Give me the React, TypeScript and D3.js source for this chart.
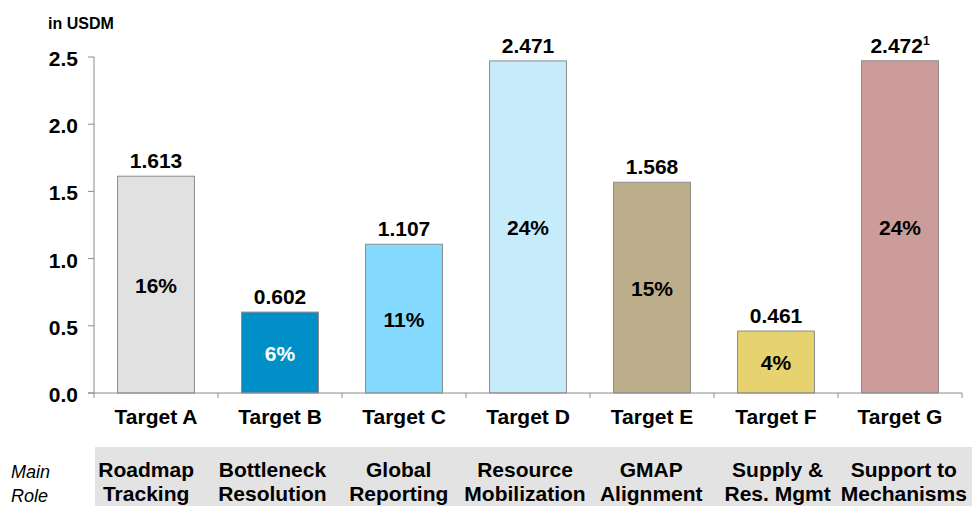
import React from "react";
import * as d3 from "d3";

const categories = ["Target A", "Target B", "Target C", "Target D", "Target E", "Target F", "Target G"];
const values = [1.613, 0.602, 1.107, 2.471, 1.568, 0.461, 2.472];
const valueLabels = ["1.613", "0.602", "1.107", "2.471", "1.568", "0.461", "2.472"];
const footnotes = ["", "", "", "", "", "", "1"];
const shares = ["16%", "6%", "11%", "24%", "15%", "4%", "24%"];
const roles = [
  ["Roadmap", "Tracking"],
  ["Bottleneck", "Resolution"],
  ["Global", "Reporting"],
  ["Resource", "Mobilization"],
  ["GMAP", "Alignment"],
  ["Supply &", "Res. Mgmt"],
  ["Support to", "Mechanisms"],
];
const colors = ["#e1e1e1", "#008fc7", "#84dbff", "#c6ecfc", "#bcae8a", "#e6d26f", "#cc9c9a"];
const shareColors = ["#000", "#fff", "#000", "#000", "#000", "#000", "#000"];
const yTicks = [0, 0.5, 1.0, 1.5, 2.0, 2.5];

const W = 972, H = 506;
const x0 = 94, x1 = 962, yTop = 57, yBot = 393;
const FONT = "Liberation Sans, Arial, sans-serif";
const FS = 21;

export default function App() {
  const x = d3.scaleBand<string>().domain(categories).range([x0, x1]).paddingInner(0.38).paddingOuter(0.19);
  const band = d3.scaleBand<string>().domain(categories).range([x0, x1]);
  const roleBand = d3.scaleBand<string>().domain(categories).range([83, 967]);
  const y = d3.scaleLinear().domain([0, 2.5]).range([yBot, yTop]);
  return (
    <svg width={W} height={H} style={{ position: "absolute", left: 0, top: 0 }} fontFamily={FONT}>
      <text x={48} y={29} fontSize={16} fontWeight="bold">in USDM</text>
      {/* y axis */}
      <line x1={x0} x2={x0} y1={y(2.5)} y2={yBot} stroke="#8c8c8c" />
      {yTicks.map((t) => (
        <g key={t}>
          <line x1={x0 - 6} x2={x0} y1={y(t)} y2={y(t)} stroke="#8c8c8c" />
          <text x={x0 - 16} y={y(t) + 9} textAnchor="end" fontSize={FS} fontWeight="bold">{t.toFixed(1)}</text>
        </g>
      ))}
      {/* bars */}
      {categories.map((c, i) => {
        const bx = x(c)!;
        const bw = x.bandwidth();
        const top = y(values[i]);
        const cx = bx + bw / 2;
        return (
          <g key={c}>
            <rect x={bx} y={top} width={bw} height={yBot - top} fill={colors[i]} stroke="#8c8c8c" strokeWidth={1} />
            <text x={cx} y={top - 8} textAnchor="middle" fontSize={FS} fontWeight="bold">
              {valueLabels[i]}
              {footnotes[i] && <tspan fontSize={12} dy={-8}>{footnotes[i]}</tspan>}
            </text>
            <text x={cx} y={(top + yBot) / 2 + 8} textAnchor="middle" fontSize={FS} fontWeight="bold" fill={shareColors[i]}>{shares[i]}</text>
          </g>
        );
      })}
      {/* x axis */}
      <line x1={x0 - 6} x2={x1} y1={yBot} y2={yBot} stroke="#8c8c8c" />
      <line x1={x0} x2={x0} y1={yBot} y2={yBot + 5} stroke="#8c8c8c" />
      {categories.map((c) => (
        <line key={"t" + c} x1={band(c)! + band.bandwidth()} x2={band(c)! + band.bandwidth()} y1={yBot} y2={yBot + 5} stroke="#8c8c8c" />
      ))}
      {categories.map((c) => (
        <text key={"l" + c} x={band(c)! + band.bandwidth() / 2} y={424} textAnchor="middle" fontSize={FS} fontWeight="bold">{c}</text>
      ))}
      {/* role band */}
      <rect x={95} y={447} width={W - 95} height={H - 447} fill="#e3e3e3" />
      <text x={11} y={478} fontSize={18} fontStyle="italic">Main</text>
      <text x={11} y={502} fontSize={18} fontStyle="italic">Role</text>
      {categories.map((c, i) => (
        <g key={"r" + c}>
          <text x={roleBand(c)! + roleBand.bandwidth() / 2} y={477} textAnchor="middle" fontSize={FS} fontWeight="bold">{roles[i][0]}</text>
          <text x={roleBand(c)! + roleBand.bandwidth() / 2} y={501} textAnchor="middle" fontSize={FS} fontWeight="bold">{roles[i][1]}</text>
        </g>
      ))}
    </svg>
  );
}
